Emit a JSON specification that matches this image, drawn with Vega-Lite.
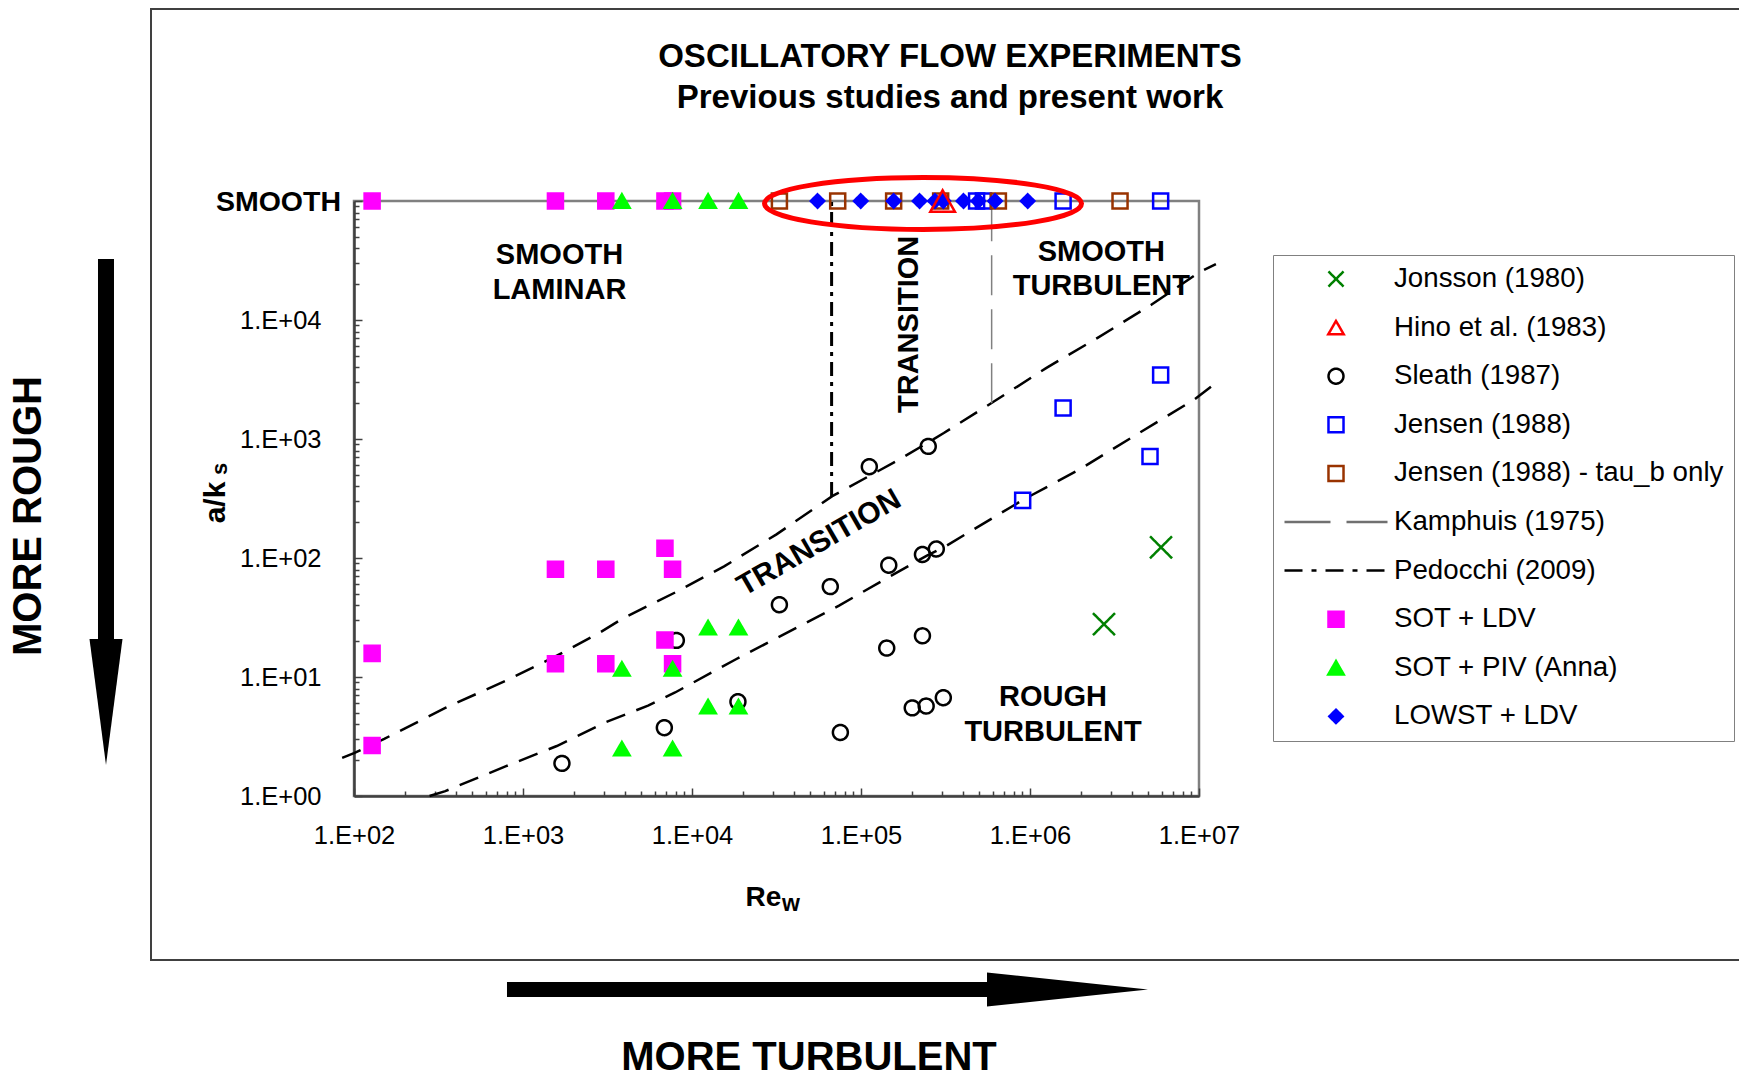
{
  "$schema": "https://vega.github.io/schema/vega-lite/v6.json",
  "width": 845,
  "height": 595,
  "autosize": {"type": "none"},
  "padding": {"left": 354, "top": 201, "right": 540, "bottom": 281},
  "background": "#ffffff",
  "config": {
    "font": "Liberation Sans",
    "view": {"stroke": "#808080", "strokeWidth": 2.5}
  },
  "datasets": {
    "points": [
      {"series": "Jonsson (1980)", "Re": 5960000, "ak": 123},
      {"series": "Jonsson (1980)", "Re": 2740000, "ak": 27.8},
      {"series": "Sleath (1987)", "Re": 1700, "ak": 1.88},
      {"series": "Sleath (1987)", "Re": 6860, "ak": 3.75},
      {"series": "Sleath (1987)", "Re": 8080, "ak": 20.3},
      {"series": "Sleath (1987)", "Re": 18700, "ak": 6.2},
      {"series": "Sleath (1987)", "Re": 32900, "ak": 40.5},
      {"series": "Sleath (1987)", "Re": 65800, "ak": 57.5},
      {"series": "Sleath (1987)", "Re": 75500, "ak": 3.42},
      {"series": "Sleath (1987)", "Re": 112000, "ak": 585},
      {"series": "Sleath (1987)", "Re": 142000, "ak": 17.5},
      {"series": "Sleath (1987)", "Re": 146000, "ak": 87},
      {"series": "Sleath (1987)", "Re": 201000, "ak": 5.5},
      {"series": "Sleath (1987)", "Re": 231000, "ak": 107},
      {"series": "Sleath (1987)", "Re": 231000, "ak": 22.2},
      {"series": "Sleath (1987)", "Re": 243000, "ak": 5.7},
      {"series": "Sleath (1987)", "Re": 250000, "ak": 867},
      {"series": "Sleath (1987)", "Re": 279000, "ak": 119},
      {"series": "Sleath (1987)", "Re": 307000, "ak": 6.7},
      {"series": "Jensen (1988)", "Re": 483000, "ak": 100000},
      {"series": "Jensen (1988)", "Re": 530000, "ak": 100000},
      {"series": "Jensen (1988)", "Re": 1570000, "ak": 100000},
      {"series": "Jensen (1988)", "Re": 5930000, "ak": 100000},
      {"series": "Jensen (1988)", "Re": 905000, "ak": 305},
      {"series": "Jensen (1988)", "Re": 1570000, "ak": 1820},
      {"series": "Jensen (1988)", "Re": 5130000, "ak": 714},
      {"series": "Jensen (1988)", "Re": 5930000, "ak": 3450},
      {"series": "Jensen (1988) - tau_b only", "Re": 32900, "ak": 100000},
      {"series": "Jensen (1988) - tau_b only", "Re": 72800, "ak": 100000},
      {"series": "Jensen (1988) - tau_b only", "Re": 156000, "ak": 100000},
      {"series": "Jensen (1988) - tau_b only", "Re": 296000, "ak": 100000},
      {"series": "Jensen (1988) - tau_b only", "Re": 650000, "ak": 100000},
      {"series": "Jensen (1988) - tau_b only", "Re": 3410000, "ak": 100000},
      {"series": "SOT + LDV", "Re": 128, "ak": 100000},
      {"series": "SOT + LDV", "Re": 1556, "ak": 100000},
      {"series": "SOT + LDV", "Re": 3090, "ak": 100000},
      {"series": "SOT + LDV", "Re": 6918, "ak": 100000},
      {"series": "SOT + LDV", "Re": 7674, "ak": 100000},
      {"series": "SOT + LDV", "Re": 128, "ak": 15.8},
      {"series": "SOT + LDV", "Re": 128, "ak": 2.66},
      {"series": "SOT + LDV", "Re": 1556, "ak": 80.3},
      {"series": "SOT + LDV", "Re": 3090, "ak": 80.3},
      {"series": "SOT + LDV", "Re": 6918, "ak": 121},
      {"series": "SOT + LDV", "Re": 7674, "ak": 80.3},
      {"series": "SOT + LDV", "Re": 1556, "ak": 12.9},
      {"series": "SOT + LDV", "Re": 3090, "ak": 12.9},
      {"series": "SOT + LDV", "Re": 6918, "ak": 20.5},
      {"series": "SOT + LDV", "Re": 7674, "ak": 12.9},
      {"series": "SOT + PIV (Anna)", "Re": 3846, "ak": 100000},
      {"series": "SOT + PIV (Anna)", "Re": 7674, "ak": 100000},
      {"series": "SOT + PIV (Anna)", "Re": 12450, "ak": 100000},
      {"series": "SOT + PIV (Anna)", "Re": 18840, "ak": 100000},
      {"series": "SOT + PIV (Anna)", "Re": 3846, "ak": 11.7},
      {"series": "SOT + PIV (Anna)", "Re": 7674, "ak": 11.7},
      {"series": "SOT + PIV (Anna)", "Re": 3846, "ak": 2.5},
      {"series": "SOT + PIV (Anna)", "Re": 7674, "ak": 2.5},
      {"series": "SOT + PIV (Anna)", "Re": 12450, "ak": 26},
      {"series": "SOT + PIV (Anna)", "Re": 18840, "ak": 26},
      {"series": "SOT + PIV (Anna)", "Re": 12450, "ak": 5.64},
      {"series": "SOT + PIV (Anna)", "Re": 18840, "ak": 5.64},
      {"series": "LOWST + LDV", "Re": 55300, "ak": 100000},
      {"series": "LOWST + LDV", "Re": 99600, "ak": 100000},
      {"series": "LOWST + LDV", "Re": 156000, "ak": 100000},
      {"series": "LOWST + LDV", "Re": 222000, "ak": 100000},
      {"series": "LOWST + LDV", "Re": 274000, "ak": 100000},
      {"series": "LOWST + LDV", "Re": 307000, "ak": 100000},
      {"series": "LOWST + LDV", "Re": 404000, "ak": 100000},
      {"series": "LOWST + LDV", "Re": 494000, "ak": 100000},
      {"series": "LOWST + LDV", "Re": 621000, "ak": 100000},
      {"series": "LOWST + LDV", "Re": 969000, "ak": 100000},
      {"series": "Hino et al. (1983)", "Re": 304000, "ak": 100000}
    ],
    "curves": [
      {"curve": "upper", "Re": 85.1, "ak": 2.09},
      {"curve": "upper", "Re": 100, "ak": 2.29},
      {"curve": "upper", "Re": 151, "ak": 3.02},
      {"curve": "upper", "Re": 347, "ak": 5.5},
      {"curve": "upper", "Re": 794, "ak": 9.33},
      {"curve": "upper", "Re": 1585, "ak": 15.1},
      {"curve": "upper", "Re": 2818, "ak": 23.4},
      {"curve": "upper", "Re": 3981, "ak": 31.6},
      {"curve": "upper", "Re": 7943, "ak": 51.3},
      {"curve": "upper", "Re": 15490, "ak": 85.1},
      {"curve": "upper", "Re": 31620, "ak": 158},
      {"curve": "upper", "Re": 67600, "ak": 331},
      {"curve": "upper", "Re": 169800, "ak": 676},
      {"curve": "upper", "Re": 309000, "ak": 1122},
      {"curve": "upper", "Re": 589000, "ak": 1995},
      {"curve": "upper", "Re": 1259000, "ak": 3981},
      {"curve": "upper", "Re": 2512000, "ak": 7079},
      {"curve": "upper", "Re": 5248000, "ak": 13490},
      {"curve": "upper", "Re": 10000000, "ak": 25120},
      {"curve": "upper", "Re": 12590000, "ak": 29510},
      {"curve": "lower", "Re": 280, "ak": 1.0},
      {"curve": "lower", "Re": 347, "ak": 1.1},
      {"curve": "lower", "Re": 794, "ak": 1.78},
      {"curve": "lower", "Re": 1585, "ak": 2.63},
      {"curve": "lower", "Re": 3090, "ak": 4.17},
      {"curve": "lower", "Re": 5495, "ak": 5.75},
      {"curve": "lower", "Re": 7943, "ak": 7.41},
      {"curve": "lower", "Re": 18200, "ak": 14.1},
      {"curve": "lower", "Re": 39810, "ak": 25.1},
      {"curve": "lower", "Re": 74130, "ak": 39.8},
      {"curve": "lower", "Re": 138000, "ak": 66.1},
      {"curve": "lower", "Re": 245500, "ak": 104.7},
      {"curve": "lower", "Re": 309000, "ak": 123},
      {"curve": "lower", "Re": 912000, "ak": 309},
      {"curve": "lower", "Re": 1995000, "ak": 562},
      {"curve": "lower", "Re": 4074000, "ak": 1047},
      {"curve": "lower", "Re": 9333000, "ak": 2138},
      {"curve": "lower", "Re": 12590000, "ak": 2951}
    ],
    "refs": [
      {"series": "Kamphuis (1975)", "Re": 593000, "ak": 100000},
      {"series": "Kamphuis (1975)", "Re": 593000, "ak": 2000},
      {"series": "Pedocchi (2009)", "Re": 67000, "ak": 100000},
      {"series": "Pedocchi (2009)", "Re": 67000, "ak": 332}
    ],
    "note": [{"note": "annotation"}]
  },
  "layer": [
    {
      "data": {"name": "note"},
      "mark": {"type": "rect", "filled": false, "stroke": "#404040", "strokeWidth": 2, "clip": false},
      "encoding": {
        "x": {"datum": 6.293, "type": "quantitative", "scale": {"type": "log", "domain": [100, 10000000], "nice": false}},
        "x2": {"datum": 1000000000000},
        "y": {"datum": 0.04187, "type": "quantitative", "scale": {"type": "log", "domain": [1, 100000], "nice": false}},
        "y2": {"datum": 4107000}
      }
    },
    {
      "data": {"name": "curves"},
      "mark": {"type": "line", "color": "#000000", "strokeWidth": 2.5, "strokeDash": [20, 12], "clip": false},
      "encoding": {
        "x": {"field": "Re", "type": "quantitative", "scale": {"type": "log", "domain": [100, 10000000], "nice": false}},
        "y": {"field": "ak", "type": "quantitative", "scale": {"type": "log", "domain": [1, 100000], "nice": false}},
        "detail": {"field": "curve", "type": "nominal"}
      }
    },
    {
      "data": {"name": "refs"},
      "transform": [{"filter": "datum.series === 'Kamphuis (1975)'"}],
      "mark": {"type": "line", "color": "#808080", "strokeWidth": 1.5, "strokeDash": [40, 14], "clip": false},
      "encoding": {
        "x": {"field": "Re", "type": "quantitative", "scale": {"type": "log", "domain": [100, 10000000], "nice": false}},
        "y": {"field": "ak", "type": "quantitative", "scale": {"type": "log", "domain": [1, 100000], "nice": false}},
        "order": {"field": "ak", "type": "quantitative"}
      }
    },
    {
      "data": {"name": "refs"},
      "transform": [{"filter": "datum.series === 'Pedocchi (2009)'"}],
      "mark": {"type": "line", "color": "#000000", "strokeWidth": 3, "strokeDash": [14, 6, 4, 6], "clip": false},
      "encoding": {
        "x": {"field": "Re", "type": "quantitative", "scale": {"type": "log", "domain": [100, 10000000], "nice": false}},
        "y": {"field": "ak", "type": "quantitative", "scale": {"type": "log", "domain": [1, 100000], "nice": false}},
        "order": {"field": "ak", "type": "quantitative"}
      }
    },
    {
      "data": {"name": "points"},
      "mark": {"type": "point", "opacity": 1, "strokeWidth": 2.5, "clip": false},
      "encoding": {
        "x": {
          "field": "Re", "type": "quantitative",
          "scale": {"type": "log", "domain": [100, 10000000], "nice": false},
          "axis": {
            "values": [100,200,300,400,500,600,700,800,900,1000,2000,3000,4000,5000,6000,7000,8000,9000,10000,20000,30000,40000,50000,60000,70000,80000,90000,100000,200000,300000,400000,500000,600000,700000,800000,900000,1000000,2000000,3000000,4000000,5000000,6000000,7000000,8000000,9000000,10000000],
            "labelExpr": "abs(log(datum.value)/LN10 - round(log(datum.value)/LN10)) < 0.000001 ? '1.E+0' + round(log(datum.value)/LN10) : ''",
            "title": "Re",
            "titleFont": "Liberation Sans",
            "titleFontSize": 28,
            "titleFontWeight": "bold",
            "titleColor": "#000000",
            "titleX": 409,
            "titleY": 109,
            "titleAlign": "center",
            "titleBaseline": "alphabetic",
            "labelFont": "Liberation Sans",
            "labelFontSize": 25.5,
            "labelColor": "#000000",
            "labelPadding": 35,
            "labelOverlap": false,
            "labelFlush": false,
            "labelBound": false,
            "tickSize": {"condition": {"test": "abs(log(datum.value)/LN10 - round(log(datum.value)/LN10)) < 0.000001", "value": -8}, "value": -5},
            "tickColor": "#404040",
            "tickWidth": 1.5,
            "domainColor": "#404040",
            "domainWidth": 2.5,
            "grid": false
          }
        },
        "y": {
          "field": "ak", "type": "quantitative",
          "scale": {"type": "log", "domain": [1, 100000], "nice": false},
          "axis": {
            "values": [1,2,3,4,5,6,7,8,9,10,20,30,40,50,60,70,80,90,100,200,300,400,500,600,700,800,900,1000,2000,3000,4000,5000,6000,7000,8000,9000,10000,20000,30000,40000,50000,60000,70000,80000,90000,100000],
            "labelExpr": "datum.value >= 99999 ? 'SMOOTH' : (abs(log(datum.value)/LN10 - round(log(datum.value)/LN10)) < 0.000001 ? '1.E+0' + round(log(datum.value)/LN10) : '')",
            "title": "a/k",
            "titleFont": "Liberation Sans",
            "titleFontSize": 30,
            "titleFontWeight": "bold",
            "titleColor": "#000000",
            "titleAngle": 270,
            "titleX": -130,
            "titleY": 301,
            "titleAlign": "center",
            "titleBaseline": "alphabetic",
            "labelFont": "Liberation Sans",
            "labelFontSize": {"condition": {"test": "datum.value >= 99999", "value": 28.5}, "value": 25.5},
            "labelFontWeight": {"condition": {"test": "datum.value >= 99999", "value": "bold"}, "value": "normal"},
            "labelPadding": {"condition": {"test": "datum.value >= 99999", "value": 21.5}, "value": 41},
            "labelColor": "#000000",
            "labelOverlap": false,
            "labelFlush": false,
            "labelBound": false,
            "tickSize": {"condition": {"test": "abs(log(datum.value)/LN10 - round(log(datum.value)/LN10)) < 0.000001", "value": -8}, "value": -5},
            "tickColor": "#404040",
            "tickWidth": 1.5,
            "domainColor": "#404040",
            "domainWidth": 2.5,
            "grid": false
          }
        },
        "fill": {
          "field": "series", "type": "nominal",
          "scale": {
            "domain": ["Jonsson (1980)", "Hino et al. (1983)", "Sleath (1987)", "Jensen (1988)", "Jensen (1988) - tau_b only", "Kamphuis (1975)", "Pedocchi (2009)", "SOT + LDV", "SOT + PIV (Anna)", "LOWST + LDV"],
            "range": ["transparent", "transparent", "transparent", "transparent", "transparent", "transparent", "transparent", "#FF00FF", "#00FF00", "#0000FF"]
          },
          "legend": {"title": null, "orient": "none", "legendX": 919, "legendY": 54, "direction": "vertical", "columns": 1, "padding": 10, "strokeColor": "#808080", "fillColor": "#ffffff", "labelFont": "Liberation Sans", "labelFontSize": 27.7, "labelColor": "#000000", "labelOffset": 5, "labelLimit": 600, "symbolSize": 10609, "symbolStrokeWidth": 2.5, "clipHeight": 28, "rowPadding": 20.6, "symbolOpacity": 1}
        },
        "stroke": {
          "field": "series", "type": "nominal",
          "scale": {
            "domain": ["Jonsson (1980)", "Hino et al. (1983)", "Sleath (1987)", "Jensen (1988)", "Jensen (1988) - tau_b only", "Kamphuis (1975)", "Pedocchi (2009)", "SOT + LDV", "SOT + PIV (Anna)", "LOWST + LDV"],
            "range": ["#008000", "#FF0000", "#000000", "#0000FF", "#993300", "#707070", "#000000", "#FF00FF", "#00FF00", "#0000FF"]
          },
          "legend": {"title": null, "orient": "none", "legendX": 919, "legendY": 54, "direction": "vertical", "columns": 1, "padding": 10, "strokeColor": "#808080", "fillColor": "#ffffff", "labelFont": "Liberation Sans", "labelFontSize": 27.7, "labelColor": "#000000", "labelOffset": 5, "labelLimit": 600, "symbolSize": 10609, "symbolStrokeWidth": 2.5, "clipHeight": 28, "rowPadding": 20.6, "symbolOpacity": 1}
        },
        "shape": {
          "field": "series", "type": "nominal",
          "scale": {
            "domain": ["Jonsson (1980)", "Hino et al. (1983)", "Sleath (1987)", "Jensen (1988)", "Jensen (1988) - tau_b only", "Kamphuis (1975)", "Pedocchi (2009)", "SOT + LDV", "SOT + PIV (Anna)", "LOWST + LDV"],
            "range": [
              "M-0.146,-0.146L0.146,0.146M-0.146,0.146L0.146,-0.146",
              "M0,-0.13L0.15,0.13L-0.15,0.13Z",
              "M-0.145,0A0.145,0.145,0,1,0,0.145,0A0.145,0.145,0,1,0,-0.145,0Z",
              "M-0.146,-0.146L0.146,-0.146L0.146,0.146L-0.146,0.146Z",
              "M-0.146,-0.146L0.146,-0.146L0.146,0.146L-0.146,0.146Z",
              "M-1,0L1,0",
              "M-1,0L1,0",
              "M-0.146,-0.146L0.146,-0.146L0.146,0.146L-0.146,0.146Z",
              "M0,-0.13L0.15,0.13L-0.15,0.13Z",
              "M0,-0.13L0.13,0L0,0.13L-0.13,0Z"
            ]
          },
          "legend": {"title": null, "orient": "none", "legendX": 919, "legendY": 54, "direction": "vertical", "columns": 1, "padding": 10, "strokeColor": "#808080", "fillColor": "#ffffff", "labelFont": "Liberation Sans", "labelFontSize": 27.7, "labelColor": "#000000", "labelOffset": 5, "labelLimit": 600, "symbolSize": 10609, "symbolStrokeWidth": 2.5, "clipHeight": 28, "rowPadding": 20.6, "symbolOpacity": 1}
        },
        "strokeDash": {
          "field": "series", "type": "nominal",
          "scale": {
            "domain": ["Jonsson (1980)", "Hino et al. (1983)", "Sleath (1987)", "Jensen (1988)", "Jensen (1988) - tau_b only", "Kamphuis (1975)", "Pedocchi (2009)", "SOT + LDV", "SOT + PIV (Anna)", "LOWST + LDV"],
            "range": [[1, 0], [1, 0], [1, 0], [1, 0], [1, 0], [46, 16], [18, 9, 5, 9], [1, 0], [1, 0], [1, 0]]
          },
          "legend": {"title": null, "orient": "none", "legendX": 919, "legendY": 54, "direction": "vertical", "columns": 1, "padding": 10, "strokeColor": "#808080", "fillColor": "#ffffff", "labelFont": "Liberation Sans", "labelFontSize": 27.7, "labelColor": "#000000", "labelOffset": 5, "labelLimit": 600, "symbolSize": 10609, "symbolStrokeWidth": 2.5, "clipHeight": 28, "rowPadding": 20.6, "symbolOpacity": 1}
        },
        "size": {
          "condition": [
            {"test": "datum.series === 'Hino et al. (1983)'", "value": 26760},
            {"test": "datum.series === 'Jonsson (1980)'", "value": 22800}
          ],
          "value": 10609
        }
      }
    },
    {
      "data": {"name": "note"},
      "layer": [
        {
          "mark": {"type": "point", "shape": "M-1,0A1,0.164,0,1,0,1,0A1,0.164,0,1,0,-1,0Z", "size": 100489, "filled": false, "stroke": "#FF0000", "strokeWidth": 5, "opacity": 1, "clip": false},
          "encoding": {
            "x": {"datum": 232800, "type": "quantitative", "scale": {"type": "log", "domain": [100, 10000000], "nice": false}},
            "y": {"datum": 95300, "type": "quantitative", "scale": {"type": "log", "domain": [1, 100000], "nice": false}}
          }
        },
        {
          "mark": {"type": "rule", "color": "#000000", "strokeWidth": 15, "clip": false},
          "encoding": {
            "x": {"datum": 804, "type": "quantitative", "scale": {"type": "log", "domain": [100, 10000000], "nice": false}},
            "x2": {"datum": 564300},
            "y": {"datum": 0.02365, "type": "quantitative", "scale": {"type": "log", "domain": [1, 100000], "nice": false}}
          }
        },
        {
          "mark": {"type": "point", "shape": "M-1,-0.211L1,0L-1,0.211Z", "size": 25921, "filled": true, "color": "#000000", "strokeWidth": 0, "opacity": 1, "clip": false},
          "encoding": {
            "x": {"datum": 1667000, "type": "quantitative", "scale": {"type": "log", "domain": [100, 10000000], "nice": false}},
            "y": {"datum": 0.02365, "type": "quantitative", "scale": {"type": "log", "domain": [1, 100000], "nice": false}}
          }
        },
        {
          "mark": {"type": "rule", "color": "#000000", "strokeWidth": 16, "clip": false},
          "encoding": {
            "x": {"datum": 3.408, "type": "quantitative", "scale": {"type": "log", "domain": [100, 10000000], "nice": false}},
            "y": {"datum": 32550, "type": "quantitative", "scale": {"type": "log", "domain": [1, 100000], "nice": false}},
            "y2": {"datum": 20.07}
          }
        },
        {
          "mark": {"type": "point", "shape": "M-0.262,-1L0.262,-1L0,1Z", "size": 15876, "filled": true, "color": "#000000", "strokeWidth": 0, "opacity": 1, "clip": false},
          "encoding": {
            "x": {"datum": 3.408, "type": "quantitative", "scale": {"type": "log", "domain": [100, 10000000], "nice": false}},
            "y": {"datum": 6.165, "type": "quantitative", "scale": {"type": "log", "domain": [1, 100000], "nice": false}}
          }
        },
        {
          "mark": {"type": "text", "font": "Liberation Sans", "fontWeight": "bold", "fontSize": 33, "align": "center", "baseline": "alphabetic", "color": "#000000", "clip": false},
          "encoding": {
            "x": {"datum": 336300, "type": "quantitative", "scale": {"type": "log", "domain": [100, 10000000], "nice": false}},
            "y": {"datum": 1345000, "type": "quantitative", "scale": {"type": "log", "domain": [1, 100000], "nice": false}},
            "text": {"value": "OSCILLATORY FLOW EXPERIMENTS"}
          }
        },
        {
          "mark": {"type": "text", "font": "Liberation Sans", "fontWeight": "bold", "fontSize": 33, "align": "center", "baseline": "alphabetic", "color": "#000000", "clip": false},
          "encoding": {
            "x": {"datum": 336300, "type": "quantitative", "scale": {"type": "log", "domain": [100, 10000000], "nice": false}},
            "y": {"datum": 604500, "type": "quantitative", "scale": {"type": "log", "domain": [1, 100000], "nice": false}},
            "text": {"value": "Previous studies and present work"}
          }
        },
        {
          "mark": {"type": "text", "font": "Liberation Sans", "fontWeight": "bold", "fontSize": 40, "angle": 270, "align": "center", "baseline": "middle", "color": "#000000", "clip": false},
          "encoding": {
            "x": {"datum": 1.1938, "type": "quantitative", "scale": {"type": "log", "domain": [100, 10000000], "nice": false}},
            "y": {"datum": 225.4, "type": "quantitative", "scale": {"type": "log", "domain": [1, 100000], "nice": false}},
            "text": {"value": "MORE ROUGH"}
          }
        },
        {
          "mark": {"type": "text", "font": "Liberation Sans", "fontWeight": "bold", "fontSize": 40, "align": "center", "baseline": "alphabetic", "color": "#000000", "clip": false},
          "encoding": {
            "x": {"datum": 49250, "type": "quantitative", "scale": {"type": "log", "domain": [100, 10000000], "nice": false}},
            "y": {"datum": 0.0050, "type": "quantitative", "scale": {"type": "log", "domain": [1, 100000], "nice": false}},
            "text": {"value": "MORE TURBULENT"}
          }
        },
        {
          "mark": {"type": "text", "font": "Liberation Sans", "fontWeight": "bold", "fontSize": 29, "lineHeight": 35.5, "align": "center", "baseline": "alphabetic", "color": "#000000", "clip": false},
          "encoding": {
            "x": {"datum": 1644, "type": "quantitative", "scale": {"type": "log", "domain": [100, 10000000], "nice": false}},
            "y": {"datum": 29570, "type": "quantitative", "scale": {"type": "log", "domain": [1, 100000], "nice": false}},
            "text": {"value": ["SMOOTH", "LAMINAR"]}
          }
        },
        {
          "mark": {"type": "text", "font": "Liberation Sans", "fontWeight": "bold", "fontSize": 29, "lineHeight": 34.5, "align": "center", "baseline": "alphabetic", "color": "#000000", "clip": false},
          "encoding": {
            "x": {"datum": 2642000, "type": "quantitative", "scale": {"type": "log", "domain": [100, 10000000], "nice": false}},
            "y": {"datum": 31550, "type": "quantitative", "scale": {"type": "log", "domain": [1, 100000], "nice": false}},
            "text": {"value": ["SMOOTH", "TURBULENT"]}
          }
        },
        {
          "mark": {"type": "text", "font": "Liberation Sans", "fontWeight": "bold", "fontSize": 29, "lineHeight": 35, "align": "center", "baseline": "alphabetic", "color": "#000000", "clip": false},
          "encoding": {
            "x": {"datum": 1368000, "type": "quantitative", "scale": {"type": "log", "domain": [100, 10000000], "nice": false}},
            "y": {"datum": 5.66, "type": "quantitative", "scale": {"type": "log", "domain": [1, 100000], "nice": false}},
            "text": {"value": ["ROUGH", "TURBULENT"]}
          }
        },
        {
          "mark": {"type": "text", "font": "Liberation Sans", "fontWeight": "bold", "fontSize": 29, "angle": 270, "align": "center", "baseline": "middle", "color": "#000000", "clip": false},
          "encoding": {
            "x": {"datum": 193200, "type": "quantitative", "scale": {"type": "log", "domain": [100, 10000000], "nice": false}},
            "y": {"datum": 9184, "type": "quantitative", "scale": {"type": "log", "domain": [1, 100000], "nice": false}},
            "text": {"value": "TRANSITION"}
          }
        },
        {
          "mark": {"type": "text", "font": "Liberation Sans", "fontWeight": "bold", "fontSize": 30, "angle": 330, "align": "center", "baseline": "middle", "color": "#000000", "clip": false},
          "encoding": {
            "x": {"datum": 56430, "type": "quantitative", "scale": {"type": "log", "domain": [100, 10000000], "nice": false}},
            "y": {"datum": 133.7, "type": "quantitative", "scale": {"type": "log", "domain": [1, 100000], "nice": false}},
            "text": {"value": "TRANSITION"}
          }
        },
        {
          "mark": {"type": "text", "font": "Liberation Sans", "fontWeight": "bold", "fontSize": 22, "angle": 270, "align": "center", "baseline": "alphabetic", "color": "#000000", "clip": false},
          "encoding": {
            "x": {"datum": 17.73, "type": "quantitative", "scale": {"type": "log", "domain": [100, 10000000], "nice": false}},
            "y": {"datum": 560, "type": "quantitative", "scale": {"type": "log", "domain": [1, 100000], "nice": false}},
            "text": {"value": "s"}
          }
        },
        {
          "mark": {"type": "text", "font": "Liberation Sans", "fontWeight": "bold", "fontSize": 23, "align": "left", "baseline": "alphabetic", "color": "#000000", "clip": false},
          "encoding": {
            "x": {"datum": 34080, "type": "quantitative", "scale": {"type": "log", "domain": [100, 10000000], "nice": false}},
            "y": {"datum": 0.1081, "type": "quantitative", "scale": {"type": "log", "domain": [1, 100000], "nice": false}},
            "text": {"value": "w"}
          }
        }
      ]
    }
  ]
}
